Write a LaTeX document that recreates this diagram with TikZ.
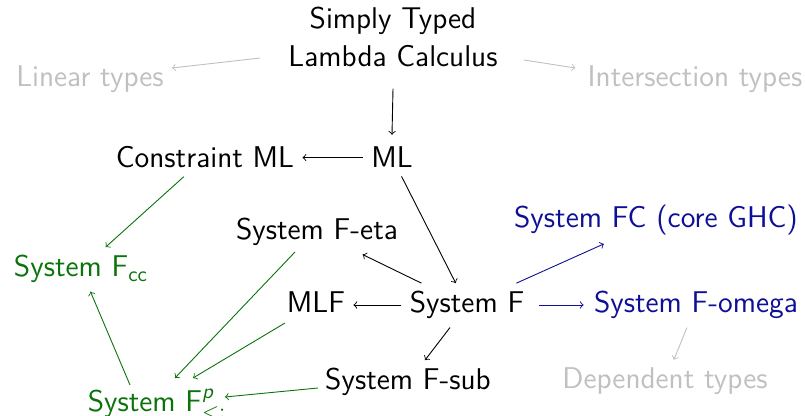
\documentclass[tikz,border=0pt]{standalone}
\usepackage{amsmath}
\usepackage{fontspec}
\begin{document}
\begin{tikzpicture}[x=0.5pt,y=-0.5pt,
  every node/.style={font=\fontsize{15}{19}\sffamily, inner sep=4pt, anchor=base},
  sys/.style={text=black},
  faded/.style={text=fadegray},
  greensys/.style={text=darkgreen},
  bluesys/.style={text=darkblue},
  link/.style={->, line width=0.45pt, black},
  fadelink/.style={->, line width=0.45pt, fadegray},
  greenlink/.style={->, line width=0.45pt, darkgreen},
  bluelink/.style={->, line width=0.45pt, darkblue}]
\definecolor{fadegray}{RGB}{192,192,192}
\definecolor{darkgreen}{RGB}{10,115,10}
\definecolor{darkblue}{RGB}{15,15,150}
\useasboundingbox (0,0) rectangle (805,416);

% nodes, placed at their (last) baselines
\node[sys, align=center] (stlc) at (393,67) {Simply Typed\\Lambda Calculus};
\node[faded] (lin) at (90,87) {Linear types};
\node[faded] (inter) at (695,87) {Intersection types};
\node[sys] (ml) at (392,168) {ML};
\node[sys] (cml) at (205,168) {Constraint ML};
\node[sys] (feta) at (317,240) {System F-eta};
\node[bluesys] (fc) at (656,228) {System FC (core GHC)};
\node[greensys] (fcc) at (81,277) {System F$_{\mathsf{cc}}$};
\node[sys] (mlf) at (316,313) {MLF};
\node[sys] (sf) at (467,313) {System F};
\node[bluesys] (fomega) at (696,313) {System F-omega};
\node[sys] (fsub) at (408,390) {System F-sub};
\node[faded] (dep) at (665,389) {Dependent types};
\node[greensys] (fp) at (157,412) {System $\mathsf{F}^{\text{\sffamily\slshape p}}_{<:}$};

% connectors
\draw[fadelink] ([xshift=-10pt,yshift=4.5pt]stlc.base west) -- ([yshift=9.5pt]lin.base east);
\draw[fadelink] ([xshift=9pt,yshift=3.5pt]stlc.base east) -- ([xshift=-2pt,yshift=9.5pt]inter.base west);
\draw[link] ([yshift=-6.5pt]stlc.south) -- ([yshift=2pt]ml.north);
\draw[link] (ml.west) -- (cml.east);
\draw[link] (ml) -- (sf);
\draw[link] (sf) -- (feta);
\draw[link] ([yshift=4pt]sf.base west) -- ([yshift=4pt]mlf.base east);
\draw[bluelink] ([xshift=3pt,yshift=4pt]sf.base east) -- ([xshift=-1pt,yshift=4pt]fomega.base west);
\draw[bluelink] (sf) -- (fc);
\draw[link] (sf) -- (fsub);
\draw[fadelink] (fomega) -- (dep);
\draw[greenlink] (cml) -- (fcc);
\draw[greenlink] ([xshift=-13.5pt,yshift=13.5pt]fp.base) -- (fcc);
\draw[greenlink] ([xshift=-11pt,yshift=-6pt]feta.base) -- ([xshift=9pt,yshift=17pt]fp.base);
\draw[greenlink] ([xshift=-15.5pt,yshift=-5pt]mlf.base) -- ([xshift=18pt,yshift=17pt]fp.base);
\draw[greenlink] ([xshift=-45pt,yshift=1pt]fsub.base) -- ([xshift=34pt,yshift=7.5pt]fp.base);
\end{tikzpicture}
\end{document}
